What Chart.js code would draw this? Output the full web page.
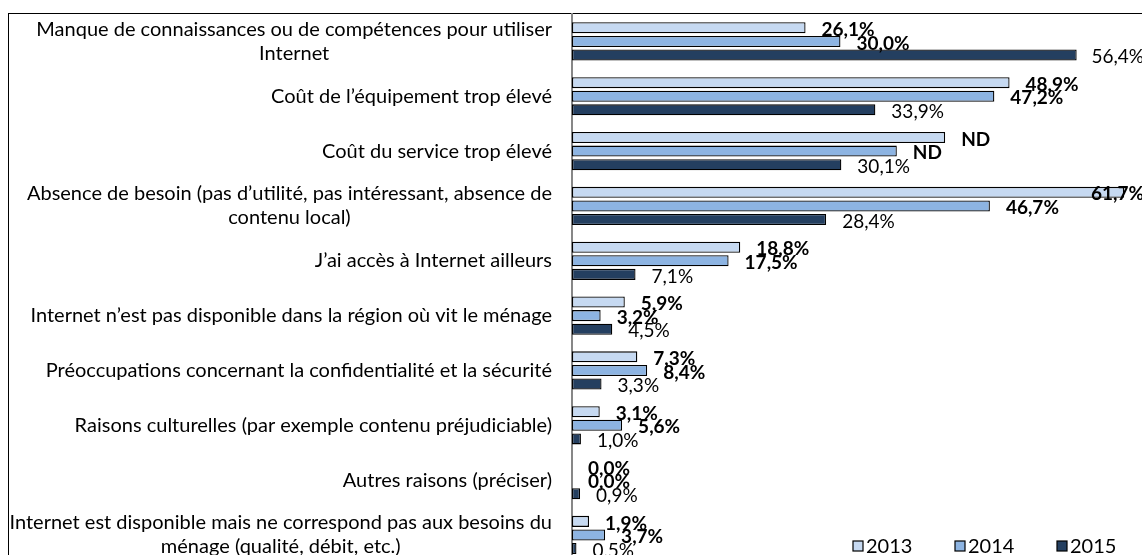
<!DOCTYPE html>
<html>
<head>
<meta charset="utf-8">
<script src="https://cdn.jsdelivr.net/npm/chart.js@4.4.1/dist/chart.umd.min.js"></script>
<style>
  html, body { margin: 0; padding: 0; background: #fff; overflow: hidden; width: 1142px; height: 555px; }
  #frame { position: absolute; left: 8px; top: 13px; width: 1300px; height: 800px; border-top: 1px solid #000; border-left: 1px solid #000; }
  #wrap { position: absolute; left: 0; top: 0; width: 1142px; height: 600px; }
</style>
</head>
<body>
<div id="frame"></div>
<div id="wrap"><canvas id="c"></canvas></div>
<script>
// ---- data ----
const categories = [
  ["Manque de connaissances ou de compétences pour utiliser", "Internet"],
  "Coût de l’équipement trop élevé",
  "Coût du service trop élevé",
  ["Absence de besoin (pas d’utilité, pas intéressant, absence de", "contenu local)"],
  "J’ai accès à Internet ailleurs",
  "Internet n’est pas disponible dans la région où vit le ménage",
  "Préoccupations concernant la confidentialité et la sécurité",
  "Raisons culturelles (par exemple contenu préjudiciable)",
  "Autres raisons (préciser)",
  ["Internet est disponible mais ne correspond pas aux besoins du", "ménage (qualité, débit, etc.)"]
];
const seriesNames = ["2013", "2014", "2015"];
const values2013 = [26.1, 48.9, 41.7, 61.7, 18.8, 5.9, 7.3, 3.1, 0.0, 1.9];
const values2014 = [30.0, 47.2, 36.3, 46.7, 17.5, 3.2, 8.4, 5.6, 0.0, 3.7];
const values2015 = [56.4, 33.9, 30.1, 28.4, 7.1, 4.5, 3.3, 1.0, 0.9, 0.5];
const textOverride2013 = [null, null, "ND", null, null, null, null, null, null, null];
const textOverride2014 = [null, null, "ND", null, null, null, null, null, null, null];
const textOverride2015 = [null, null, null, null, null, null, null, null, null, null];

// ---- helpers ----
const FONT = "Lato";
const LABEL_SIZE = 20;
const LABEL_RIGHT = 552;
const fmt = v => v.toFixed(1).replace(".", ",") + "%";
const makeTexts = (vals, over) => vals.map((v, i) => over[i] != null ? over[i] : fmt(v));
const isMulti = l => Array.isArray(l) && l.length > 1;
const measureCtx = document.createElement("canvas").getContext("2d");
const textWidth = (s, font) => { measureCtx.font = font; return measureCtx.measureText(s).width; };

const valueLabelPlugin = {
  id: "valueLabels",
  afterDatasetsDraw(chart) {
    const ctx = chart.ctx;
    chart.data.datasets.forEach((ds, di) => {
      const meta = chart.getDatasetMeta(di);
      if (meta.hidden) return;
      meta.data.forEach((bar, i) => {
        const txt = ds.valueTexts[i];
        ctx.save();
        ctx.font = (ds.labelBold ? "bold " : "") + "19px " + FONT;
        const w = ctx.measureText(txt).width;
        ctx.fillStyle = "#000";
        ctx.textAlign = "left";
        ctx.textBaseline = "middle";
        ctx.fillText(txt, Math.min(bar.x + 16, chart.width - w + 2), bar.y + 2);
        ctx.restore();
      });
    });
  }
};

const legendPlugin = {
  id: "cornerLegend",
  afterDraw(chart) {
    const ctx = chart.ctx;
    const items = Chart.defaults.plugins.legend.labels.generateLabels(chart);
    const x0 = 853, step = 102, yc = 546, box = 10;
    items.forEach((it, k) => {
      const x = x0 + k * step;
      ctx.save();
      ctx.fillStyle = it.fillStyle;
      ctx.strokeStyle = "#000";
      ctx.lineWidth = 1.2;
      ctx.fillRect(x, yc - box / 2, box, box);
      ctx.strokeRect(x, yc - box / 2, box, box);
      ctx.fillStyle = "#000";
      ctx.font = "20px " + FONT;
      ctx.textAlign = "left";
      ctx.textBaseline = "middle";
      ctx.fillText(it.text, x + box + 3, yc + 1);
      ctx.restore();
    });
  }
};

const barStyle = {
  borderColor: "#000",
  borderWidth: 1.3,
  borderSkipped: false,
  categoryPercentage: 0.744,
  barPercentage: 0.81
};

const noPad = s => { s.paddingTop = 0; s.paddingBottom = 0; };
const labelFont = { family: FONT, size: LABEL_SIZE, lineHeight: 1.2 };

const scales = {
  x: { display: false, min: 0, max: 63.7 },
  y: {
    type: "category",
    position: "left",
    weight: 1,
    offset: true,
    grid: { display: false, drawTicks: false },
    border: { display: true, color: "#878787", width: 2 },
    afterFit: s => { s.width = 572; noPad(s); },
    ticks: {
      autoSkip: false,
      padding: 572 - LABEL_RIGHT,
      color: "#000",
      font: labelFont,
      callback: function (v) { return isMulti(categories[v]) ? "" : this.getLabelForValue(v); }
    }
  }
};
// multi-line labels: each block right-aligned, its lines centred on each other
categories.forEach((lab, idx) => {
  if (!isMulti(lab)) return;
  const widest = Math.max(...lab.map(s => textWidth(s, LABEL_SIZE + "px " + FONT)));
  scales["yLabel" + idx] = {
    type: "category",
    axis: "y",
    position: "left",
    weight: 2,
    offset: true,
    grid: { display: false, drawTicks: false },
    border: { display: false },
    afterFit: s => { s.width = 0; noPad(s); },
    ticks: {
      autoSkip: false,
      mirror: true,
      crossAlign: "center",
      padding: LABEL_RIGHT - widest,
      color: "#000",
      font: labelFont,
      callback: v => (v === idx ? lab : "")
    }
  };
});

new Chart(document.getElementById("c"), {
  type: "bar",
  data: {
    labels: categories,
    datasets: [
      Object.assign({ label: seriesNames[0], data: values2013, backgroundColor: "#C6D9F1", labelBold: true, valueTexts: makeTexts(values2013, textOverride2013) }, barStyle),
      Object.assign({ label: seriesNames[1], data: values2014, backgroundColor: "#8DB4E2", labelBold: true, valueTexts: makeTexts(values2014, textOverride2014) }, barStyle),
      Object.assign({ label: seriesNames[2], data: values2015, backgroundColor: "#243F60", labelBold: false, valueTexts: makeTexts(values2015, textOverride2015) }, barStyle)
    ]
  },
  options: {
    indexAxis: "y",
    responsive: true,
    maintainAspectRatio: false,
    animation: false,
    layout: { padding: { top: 14, bottom: 37.6, left: 0, right: 0 } },
    plugins: { legend: { display: false }, tooltip: { enabled: false } },
    scales: scales
  },
  plugins: [valueLabelPlugin, legendPlugin]
});
</script>
</body>
</html>
